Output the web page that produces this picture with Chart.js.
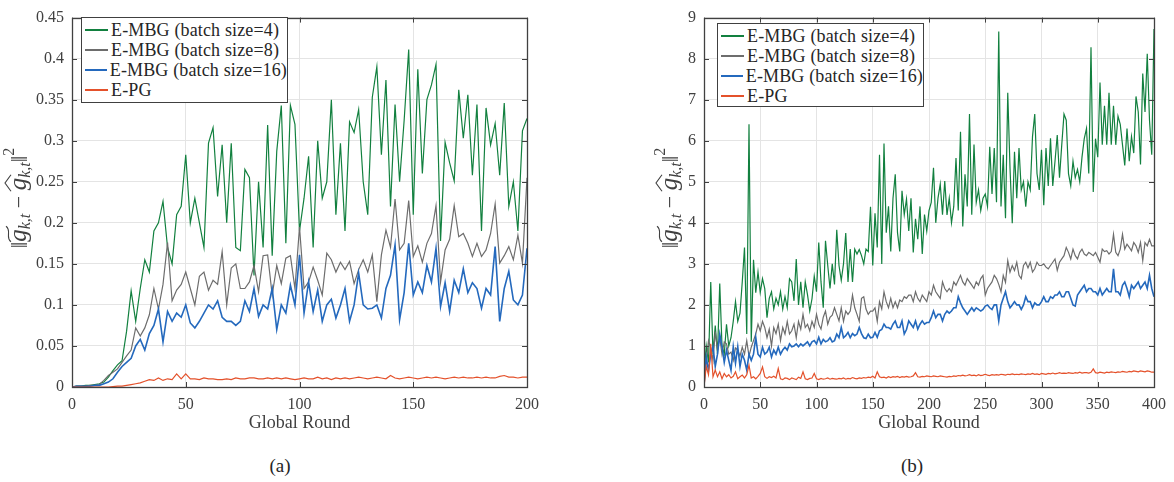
<!DOCTYPE html>
<html>
<head>
<meta charset="utf-8">
<script src="https://cdn.jsdelivr.net/npm/chart.js@4.4.0/dist/chart.umd.min.js"></script>
<style>
  body { margin: 0; width: 1174px; height: 482px; background: #fff; position: relative; overflow: hidden;
         font-family: "Liberation Serif", "Times New Roman", serif; }
  .panel { position: absolute; top: 0; height: 440px; }
  #wrapA { left: 0; width: 560px; }
  #wrapB { left: 600px; width: 574px; }
  .legend { position: absolute; background: #fff; border: 1px solid #404040; box-sizing: border-box;
            font-size: 18px; letter-spacing: 0.15px; color: #262626; padding: 2px 0 0 3px; line-height: 20px; }
  .legend div { display: flex; align-items: center; white-space: nowrap; }
  .legend .ln { display: inline-block; width: 23px; height: 0; border-top: 2px solid; margin-right: 3px; }
  .cap { position: absolute; top: 455px; font-size: 19px; color: #262626; transform: translateX(-50%); }
</style>
</head>
<body>
<div class="panel" id="wrapA"><canvas id="chartA" width="560" height="440"></canvas></div>
<div class="panel" id="wrapB"><canvas id="chartB" width="574" height="440"></canvas></div>
<div class="legend" id="legA" style="left:81px; top:17px; width:207px; height:86px;"></div>
<div class="legend" id="legB" style="left:717px; top:23px; width:207px; height:84px;"></div>
<div class="cap" style="left:280px;">(a)</div>
<div class="cap" style="left:912px;">(b)</div>
<script>
// ---- data -------------------------------------------------------------
const seriesNames = ['E-MBG (batch size=4)', 'E-MBG (batch size=8)', 'E-MBG (batch size=16)', 'E-PG'];
const seriesColors = ['#12803f', '#6d6d6d', '#2469bd', '#e4512b'];

// panel (a): rounds 0..200, every 2nd round
const roundsA = [];
for (let r = 0; r <= 200; r += 2) roundsA.push(r);
const xTicksA = [0, 50, 100, 150, 200];

const greenA = [0,0.001,0.001,0.002,0.002,0.003,0.004,0.006,0.012,0.02,
  0.027,0.032,0.068,0.117,0.08,0.12,0.155,0.14,0.19,0.2,
  0.226,0.17,0.15,0.21,0.22,0.283,0.2,0.23,0.2,0.17,
  0.297,0.316,0.232,0.295,0.2,0.297,0.17,0.166,0.265,0.255,
  0.136,0.25,0.17,0.319,0.16,0.287,0.343,0.175,0.343,0.32,
  0.19,0.23,0.281,0.17,0.3,0.23,0.25,0.35,0.21,0.297,
  0.19,0.323,0.31,0.338,0.25,0.21,0.353,0.39,0.283,0.374,
  0.22,0.344,0.25,0.325,0.411,0.21,0.387,0.26,0.35,0.368,
  0.393,0.178,0.298,0.273,0.251,0.362,0.303,0.356,0.258,0.344,
  0.19,0.34,0.295,0.321,0.258,0.346,0.22,0.25,0.19,0.312,
  0.327];
const grayA = [0,0.001,0.001,0.001,0.002,0.002,0.003,0.008,0.014,0.018,
  0.022,0.03,0.038,0.045,0.072,0.062,0.072,0.088,0.12,0.095,
  0.125,0.176,0.105,0.118,0.125,0.14,0.12,0.1,0.135,0.14,
  0.118,0.13,0.125,0.165,0.1,0.145,0.15,0.12,0.12,0.128,
  0.148,0.116,0.16,0.161,0.112,0.148,0.126,0.157,0.16,0.12,
  0.195,0.12,0.128,0.146,0.13,0.112,0.163,0.155,0.14,0.152,
  0.143,0.153,0.126,0.143,0.155,0.14,0.161,0.104,0.161,0.191,
  0.17,0.229,0.167,0.175,0.227,0.159,0.172,0.152,0.175,0.187,
  0.221,0.128,0.167,0.18,0.221,0.183,0.187,0.175,0.159,0.175,
  0.159,0.167,0.187,0.223,0.151,0.16,0.171,0.155,0.185,0.151,
  0.255];
const blueA = [0,0.001,0.001,0.001,0.001,0.002,0.002,0.004,0.006,0.01,
  0.018,0.025,0.03,0.035,0.05,0.058,0.045,0.065,0.075,0.095,
  0.055,0.092,0.08,0.09,0.085,0.1,0.078,0.072,0.08,0.09,
  0.1,0.095,0.105,0.085,0.08,0.08,0.075,0.08,0.105,0.092,
  0.12,0.086,0.1,0.095,0.12,0.07,0.1,0.09,0.124,0.1,
  0.161,0.09,0.128,0.092,0.118,0.08,0.1,0.107,0.084,0.1,
  0.12,0.08,0.1,0.139,0.1,0.095,0.096,0.1,0.084,0.12,
  0.136,0.173,0.082,0.115,0.175,0.112,0.128,0.115,0.148,0.128,
  0.169,0.098,0.127,0.092,0.13,0.115,0.144,0.115,0.127,0.12,
  0.096,0.12,0.112,0.171,0.08,0.12,0.141,0.106,0.1,0.112,
  0.169];
const redA = [0,0,0,0,0,0,0,0,0,0.0005,
  0.001,0.001,0.002,0.003,0.004,0.005,0.007,0.009,0.008,0.011,
  0.008,0.01,0.009,0.016,0.01,0.016,0.01,0.01,0.009,0.011,
  0.01,0.01,0.009,0.009,0.01,0.009,0.011,0.01,0.01,0.011,
  0.011,0.01,0.01,0.011,0.01,0.011,0.01,0.011,0.01,0.009,
  0.01,0.011,0.01,0.01,0.012,0.01,0.011,0.009,0.011,0.01,
  0.011,0.01,0.011,0.012,0.011,0.01,0.011,0.012,0.011,0.01,
  0.014,0.011,0.01,0.011,0.012,0.011,0.01,0.011,0.012,0.011,
  0.012,0.011,0.01,0.011,0.012,0.011,0.012,0.011,0.011,0.012,
  0.011,0.012,0.011,0.011,0.013,0.014,0.012,0.012,0.011,0.012,
  0.012];

// panel (b): rounds 0..400, every 2nd round
const roundsB = [];
for (let r = 0; r <= 400; r += 2) roundsB.push(r);
const xTicksB = [0, 50, 100, 150, 200, 250, 300, 350, 400];

const greenB = [0.3,1.0,0.6,2.56,0.8,1.5,0.8,2.52,1.0,0.8,
  1.53,1.0,1.2,1.6,2.08,1.6,1.8,2.56,3.4,1.29,
  6.4,1.1,3.1,2.3,2.8,2.3,2.64,2.4,1.69,2.16,
  2.32,1.9,2.16,2.0,2.32,1.9,2.2,1.93,2.64,2.56,
  2.1,3.12,2.0,2.56,1.93,2.56,2.25,1.85,2.15,2.7,
  2.32,3.52,2.56,1.93,3.56,2.96,2.4,3.0,2.5,3.83,
  2.96,2.6,3.0,3.75,2.56,3.36,2.56,3.36,3.24,3.35,
  3.2,3.0,3.36,3.3,4.39,2.96,4.23,3.4,5.66,3.0,
  5.93,3.76,4.4,3.3,4.6,5.18,3.76,3.3,4.78,4.2,
  4.58,3.8,4.6,3.28,4.1,3.6,4.4,3.24,4.2,3.8,
  4.3,4.5,5.34,4.0,4.6,4.94,4.2,5.02,4.19,4.6,
  4.0,4.4,5.58,4.3,6.22,3.91,5.18,4.4,6.65,4.2,
  5.91,4.5,4.8,4.3,4.6,4.7,4.4,5.85,4.7,5.82,
  4.5,8.66,4.4,5.66,4.11,7.17,5.34,3.99,5.73,4.6,
  5.82,4.8,5.0,4.39,5.0,4.8,6.1,6.65,5.2,4.8,
  5.78,4.43,5.82,4.9,6.06,4.9,5.5,6.14,5.1,5.9,
  6.65,6.5,5.2,4.9,5.5,5.1,5.3,5.0,5.6,6.05,
  6.3,5.2,8.28,4.75,6.05,5.6,7.42,5.9,6.85,5.9,
  7.17,5.9,6.85,5.9,6.6,6.4,5.9,5.4,6.3,5.5,
  6.1,5.7,7.08,6.7,5.42,7.64,6.7,8.12,6.5,5.66,
  8.72];
const grayB = [0.2,0.65,1.13,0.95,0.65,1.35,0.9,1.2,0.8,1.1,
  1.05,0.8,0.85,0.65,0.95,0.9,0.75,0.97,0.8,1.13,
  0.75,0.97,1.13,1.29,1.53,1.37,1.6,1.45,1.2,1.41,
  1.0,1.45,1.3,1.53,1.13,1.45,1.29,1.6,1.29,1.37,
  1.53,1.2,1.6,1.41,1.77,1.45,1.53,1.37,1.6,1.45,
  1.77,1.53,1.41,1.7,1.85,1.53,1.7,1.75,1.93,1.77,
  1.61,1.93,1.6,1.85,1.77,1.85,2.24,1.93,1.77,1.6,
  2.16,2.2,1.9,1.77,1.85,1.85,1.93,1.6,2.08,1.9,
  2.32,2.08,1.93,2.16,1.93,2.08,1.93,2.12,2.08,2.2,
  2.16,2.24,2.24,2.08,2.32,2.16,2.08,2.24,2.16,2.08,
  2.32,2.24,2.48,2.32,2.24,2.16,2.56,2.4,2.32,2.4,
  2.32,2.56,2.48,2.6,2.72,2.56,2.48,2.64,2.56,2.48,
  2.4,2.56,2.48,2.64,2.72,2.24,2.4,2.48,2.56,2.72,
  2.64,2.5,2.32,2.72,2.55,3.08,2.8,2.96,2.84,3.04,
  2.72,2.64,2.96,3.04,2.9,3.04,2.8,2.88,3.04,2.96,
  2.96,3.0,2.92,2.88,2.96,3.04,3.12,2.84,3.04,3.12,
  3.2,3.4,3.28,3.12,3.36,3.2,3.12,3.28,3.36,3.24,
  3.2,3.28,3.24,3.2,3.28,3.16,3.04,3.36,3.3,3.32,
  3.24,3.3,3.72,3.28,3.2,3.36,3.72,3.36,3.48,3.4,
  3.32,3.52,3.44,3.28,3.52,3.08,3.52,3.44,3.6,3.44,
  3.44];
const blueB = [0.05,0.73,0.4,0.8,0.98,0.5,0.8,1.29,0.98,0.6,
  0.9,0.65,0.41,0.98,0.58,0.98,0.5,0.8,0.65,0.41,
  0.8,0.65,0.8,1.21,0.8,0.73,0.97,0.8,0.85,0.97,
  0.73,0.9,0.8,0.97,0.8,0.9,0.97,0.9,1.05,0.98,
  1.0,1.05,0.98,1.05,1.0,1.05,1.1,1.0,1.1,1.13,
  1.05,1.21,1.05,1.16,1.1,1.13,1.2,1.1,1.13,1.29,
  1.2,1.45,1.2,1.25,1.33,1.2,1.3,1.25,1.29,1.45,
  1.3,1.2,1.18,1.29,1.2,1.21,1.33,1.21,1.37,1.4,
  1.53,1.45,1.45,1.41,1.53,1.61,1.45,1.45,1.61,1.29,
  1.4,1.61,1.53,1.45,1.61,1.41,1.53,1.61,1.53,1.57,
  1.57,1.69,1.85,1.69,1.77,1.77,1.61,1.77,1.85,1.8,
  1.85,1.93,1.93,2.2,2.05,1.93,1.85,1.77,1.85,1.93,
  1.85,1.93,1.89,1.85,1.89,1.97,2.0,1.93,1.89,2.0,
  2.0,1.61,2.0,2.16,2.32,2.08,1.93,2.0,2.08,2.0,
  2.0,1.89,2.0,2.2,2.08,2.08,1.93,2.05,2.0,2.0,
  2.08,2.2,2.08,2.08,2.2,2.16,2.24,2.24,2.32,2.2,
  2.2,2.32,2.32,2.16,2.0,1.97,2.24,2.32,2.4,2.48,
  2.32,2.4,2.4,2.32,2.32,2.24,2.4,2.24,2.32,2.4,
  2.32,2.32,2.88,2.32,2.32,2.24,2.48,2.56,2.4,2.2,
  2.48,2.4,2.48,2.56,2.4,2.48,2.56,2.4,2.72,2.4,
  2.2];
const redB = [0,0.5,0.3,1.05,0.25,0.41,0.25,0.37,0.2,0.33,
  0.25,0.3,0.22,0.26,0.37,0.2,0.25,0.29,0.22,0.3,
  0.53,0.22,0.25,0.2,0.26,0.33,0.49,0.25,0.21,0.25,
  0.23,0.26,0.22,0.45,0.2,0.18,0.22,0.21,0.18,0.22,
  0.2,0.18,0.24,0.21,0.37,0.2,0.18,0.21,0.22,0.33,
  0.2,0.18,0.21,0.19,0.2,0.22,0.19,0.21,0.2,0.19,
  0.21,0.2,0.22,0.19,0.21,0.2,0.23,0.21,0.2,0.22,
  0.21,0.23,0.22,0.24,0.23,0.26,0.22,0.37,0.25,0.23,
  0.24,0.22,0.25,0.23,0.25,0.24,0.26,0.23,0.25,0.24,
  0.26,0.24,0.25,0.27,0.35,0.25,0.24,0.26,0.25,0.27,
  0.26,0.25,0.27,0.26,0.25,0.27,0.26,0.25,0.24,0.26,
  0.25,0.27,0.26,0.28,0.27,0.29,0.27,0.28,0.3,0.28,
  0.29,0.27,0.3,0.28,0.29,0.31,0.29,0.28,0.3,0.29,
  0.3,0.29,0.31,0.3,0.29,0.31,0.3,0.32,0.3,0.31,
  0.3,0.32,0.31,0.3,0.32,0.31,0.33,0.31,0.32,0.3,
  0.33,0.32,0.31,0.33,0.32,0.34,0.32,0.33,0.35,0.33,
  0.34,0.33,0.35,0.34,0.33,0.35,0.34,0.36,0.34,0.35,
  0.35,0.34,0.36,0.44,0.35,0.34,0.36,0.35,0.34,0.36,
  0.35,0.37,0.36,0.35,0.37,0.36,0.38,0.37,0.36,0.38,
  0.37,0.39,0.38,0.37,0.39,0.38,0.37,0.39,0.38,0.36,
  0.36];

// ---- styling ----------------------------------------------------------
const SERIF = '"Liberation Serif", "Times New Roman", serif';
const ink = '#404040';
const gridColor = '#e4e4e4';
const lineWidths = [1.2, 1.2, 1.6, 1.2];

// MATLAB-like box with inward ticks on all four sides
const boxPlugin = {
  id: 'boxTicks',
  afterDraw(chart) {
    const { ctx, chartArea: a, scales } = chart;
    ctx.save();
    ctx.strokeStyle = ink;
    ctx.lineWidth = 1;
    ctx.beginPath();
    scales.x.ticks.forEach(t => {
      const px = Math.round(scales.x.getPixelForValue(t.value)) + 0.5;
      ctx.moveTo(px, a.bottom); ctx.lineTo(px, a.bottom - 5);
      ctx.moveTo(px, a.top); ctx.lineTo(px, a.top + 5);
    });
    scales.y.ticks.forEach(t => {
      const py = Math.round(scales.y.getPixelForValue(t.value)) + 0.5;
      ctx.moveTo(a.left, py); ctx.lineTo(a.left + 5, py);
      ctx.moveTo(a.right, py); ctx.lineTo(a.right - 5, py);
    });
    ctx.stroke();
    ctx.lineWidth = 1.3;
    ctx.strokeRect(Math.round(a.left) + 0.5, Math.round(a.top) + 0.5,
                   Math.round(a.right - a.left), Math.round(a.bottom - a.top));
    ctx.restore();
  }
};

// rotated y label ||g~_{k,t} - g^_{k,t}||^2
const normLabel = {
  id: 'normLabel',
  afterDraw(chart, args, opts) {
    const ctx = chart.ctx;
    const parts = [
      { t: '\u2016', f: `23px ${SERIF}`, dy: 1 },
      { t: 'g', f: `italic 25px ${SERIF}`, dy: 0, acc: 'tilde' },
      { t: 'k,t', f: `italic 16px ${SERIF}`, dy: 4 },
      { t: ' \u2212 ', f: `22px ${SERIF}`, dy: 0 },
      { t: 'g', f: `italic 25px ${SERIF}`, dy: 0, acc: 'hat' },
      { t: 'k,t', f: `italic 16px ${SERIF}`, dy: 4 },
      { t: '\u2016', f: `23px ${SERIF}`, dy: 1 },
      { t: '2', f: `16px ${SERIF}`, dy: -12 }
    ];
    ctx.save();
    ctx.translate(opts.x, opts.y);
    ctx.rotate(-Math.PI / 2);
    ctx.fillStyle = ink;
    ctx.strokeStyle = ink;
    ctx.textBaseline = 'alphabetic';
    let total = 0;
    parts.forEach(p => { ctx.font = p.f; p.w = ctx.measureText(p.t).width; total += p.w; });
    let cx = -total / 2;
    const base = 5;
    parts.forEach(p => {
      ctx.font = p.f;
      ctx.fillText(p.t, cx, base + p.dy);
      if (p.acc === 'tilde') {
        ctx.lineWidth = 1.1;
        ctx.beginPath();
        ctx.moveTo(cx, base - 15);
        ctx.bezierCurveTo(cx + 4, base - 21, cx + p.w - 1, base - 14, cx + p.w + 3, base - 20);
        ctx.stroke();
      } else if (p.acc === 'hat') {
        ctx.lineWidth = 1.1;
        ctx.beginPath();
        ctx.moveTo(cx - 1, base - 15);
        ctx.lineTo(cx + p.w / 2 + 1, base - 21);
        ctx.lineTo(cx + p.w + 3, base - 15);
        ctx.stroke();
      }
      cx += p.w;
    });
    ctx.restore();
  }
};

function makeChart(id, rounds, values, cfg) {
  const datasets = values.map((vals, i) => ({
    label: seriesNames[i],
    data: rounds.map((r, k) => ({ x: r, y: vals[k] })),
    borderColor: seriesColors[i],
    borderWidth: lineWidths[i],
    pointRadius: 0,
    tension: 0,
    fill: false,
    order: 3 - i
  }));
  return new Chart(document.getElementById(id), {
    type: 'line',
    data: { datasets },
    plugins: [boxPlugin, normLabel],
    options: {
      responsive: false,
      animation: false,
      devicePixelRatio: 1,
      layout: { padding: { top: 10, right: cfg.padRight, left: 0, bottom: 0 } },
      plugins: {
        legend: { display: false },
        tooltip: { enabled: false },
        normLabel: { x: cfg.labelX, y: 198 }
      },
      scales: {
        x: {
          type: 'linear',
          min: 0,
          max: cfg.xMax,
          afterBuildTicks: s => { s.ticks = cfg.xTicks.map(v => ({ value: v })); },
          afterFit: s => { s.height = 53; },
          ticks: { color: ink, font: { family: SERIF, size: 16 }, padding: 8, maxRotation: 0 },
          grid: { color: gridColor, drawTicks: false },
          border: { display: false },
          title: { display: true, text: 'Global Round', color: ink,
                   font: { family: SERIF, size: 18 }, padding: { top: 0, bottom: 6 } }
        },
        y: {
          min: 0,
          max: cfg.yMax,
          afterFit: s => { s.width = cfg.yWidth; },
          ticks: { stepSize: cfg.yStep, color: ink, font: { family: SERIF, size: 16 }, padding: 8,
                   callback: v => String(+v.toFixed(2)) },
          grid: { color: gridColor, drawTicks: false },
          border: { display: false }
        }
      }
    }
  });
}

makeChart('chartA', roundsA, [greenA, grayA, blueA, redA],
  { xMax: 200, xTicks: xTicksA, yMax: 0.45, yStep: 0.05, yWidth: 72, padRight: 33, labelX: 21 });
makeChart('chartB', roundsB, [greenB, grayB, blueB, redB],
  { xMax: 400, xTicks: xTicksB, yMax: 9, yStep: 1, yWidth: 104, padRight: 17, labelX: 72 });

// legends (drawn in HTML, inside the plot boxes)
['legA', 'legB'].forEach(id => {
  const box = document.getElementById(id);
  seriesNames.forEach((name, i) => {
    const row = document.createElement('div');
    const ln = document.createElement('span');
    ln.className = 'ln';
    ln.style.borderColor = seriesColors[i];
    row.appendChild(ln);
    row.appendChild(document.createTextNode(name));
    box.appendChild(row);
  });
});
</script>
</body>
</html>
